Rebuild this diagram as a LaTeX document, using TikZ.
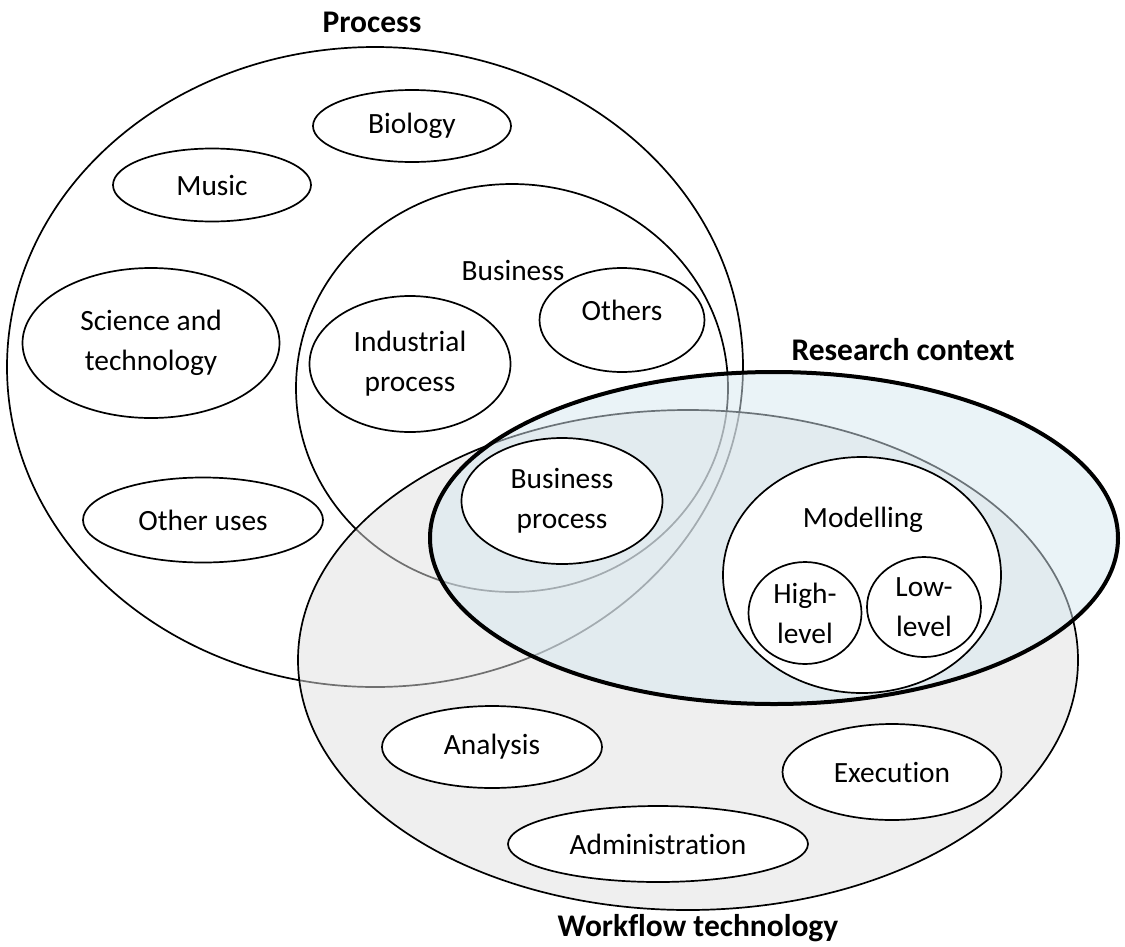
\documentclass[tikz,border=0pt]{standalone}
\usepackage{fontspec}
\setmainfont[Ligatures=NoCommon]{Carlito}
\usetikzlibrary{shapes.geometric}
\newcommand{\lbltext}{\fontsize{29.4}{40}\selectfont}
\newcommand{\ttltext}{\fontsize{31.5}{36}\selectfont\bfseries}
\definecolor{wfgray}{RGB}{224,224,224}
\definecolor{rcblue}{RGB}{214,231,240}
\tikzset{area/.style = {shape=ellipse, draw, line width=1.7pt, inner sep=0pt}}
\tikzset{topic/.style = {shape=ellipse, draw, fill=white, line width=1.7pt, inner sep=0pt, align=center, font=\lbltext}}
\tikzset{title/.style = {font=\ttltext}}

\begin{document}
\begin{tikzpicture}[x=1pt, y=-1pt]
                \useasboundingbox (0,0) rectangle (1125,946);

                % process side
                \node[area, minimum width=736pt, minimum height=640pt] (process) at (375,367) {};
                \node[area, minimum width=432pt, minimum height=408pt] (business) at (512,388) {};
                \node[topic, minimum width=198pt, minimum height=72pt] (biology) at (412,126) {Biology};
                \node[topic, minimum width=198pt, minimum height=73pt] (music) at (212,185) {Music};
                \node[topic, minimum width=257pt, minimum height=150pt] (science) at (151,343) {Science and\\technology};
                \node[topic, minimum width=240pt, minimum height=85pt] (otheruses) at (203,520) {Other uses};
                \node[topic, minimum width=201pt, minimum height=136pt] (industrial) at (410,364) {Industrial\\process};
                \node[topic, minimum width=165pt, minimum height=104pt, text depth=20pt] (others) at (622,320) {Others};

                % workflow and research context
                \node[area, fill=wfgray, fill opacity=0.5, minimum width=780pt, minimum height=500pt] (workflow) at (688,660) {};
                \node[area, line width=4pt, fill=rcblue, fill opacity=0.5, minimum width=688pt, minimum height=332pt] (research) at (774,538) {};

                \node[topic, minimum width=201pt, minimum height=126pt] (bprocess) at (562,501) {Business\\process};
                \node[topic, minimum width=278pt, minimum height=236pt] (modelling) at (862,575) {};
                \node[topic, minimum width=113pt, minimum height=102pt] (highlevel) at (805,613) {High-\\level};
                \node[topic, minimum width=114pt, minimum height=100pt] (lowlevel) at (924,607) {Low-\\level};
                \node[topic, minimum width=220pt, minimum height=82pt] (analysis) at (492,747) {Analysis};
                \node[topic, minimum width=300pt, minimum height=76pt] (admin) at (658,844) {Administration};
                \node[topic, minimum width=219pt, minimum height=96pt] (execution) at (892,772) {Execution};

                % labels
                \node[font=\lbltext] (businesslbl) at (513,270) {Business};
                \node[font=\lbltext] (modellinglbl) at (863,520) {Modelling};
                \node[title] (processlbl) at (372,22) {Process};
                \node[title] (researchlbl) at (903,350) {Research context};
                \node[title] (workflowlbl) at (698,928) {Workflow technology};
            \end{tikzpicture}
\end{document}
